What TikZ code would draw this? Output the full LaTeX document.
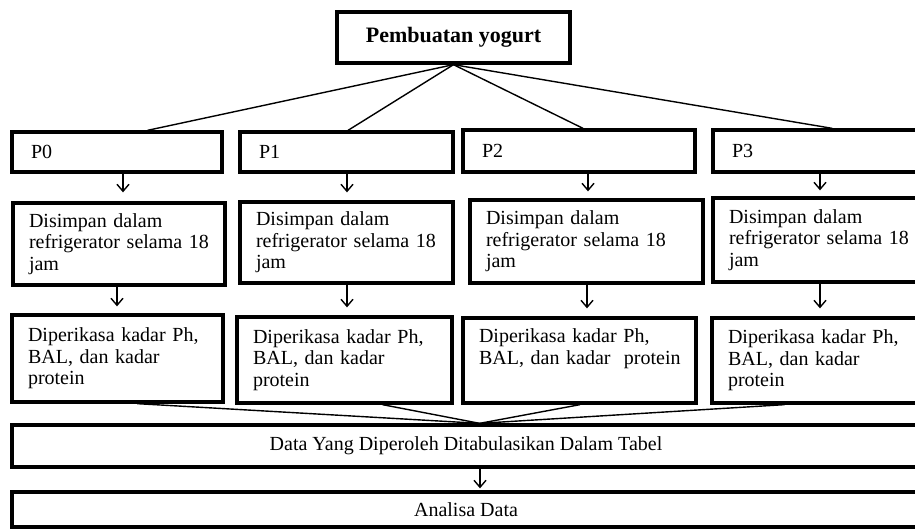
\documentclass[tikz,border=0pt]{standalone}
\usepackage{fontspec}
\setmainfont{Liberation Serif}
\usetikzlibrary{arrows.meta,calc}
\tikzset{
  box/.style={draw, line width=3.3pt, rectangle, align=left, inner ysep=0pt,
    font=\fontsize{20}{21.5}\selectfont},
  pbox/.style={box, inner xsep=19pt},
  tbox/.style={box, inner xsep=16pt},
  widebox/.style={draw, line width=3.3pt, rectangle, inner sep=0pt,
    font=\fontsize{20}{22}\selectfont},
  topbox/.style={draw, line width=3.3pt, rectangle, inner sep=0pt,
    font=\fontsize{22}{24}\selectfont\bfseries},
  conn/.style={line width=1.4pt},
  arr/.style={line width=1.4pt, -{Straight Barb[length=7pt,width=12pt]}},
}
\begin{document}
\begin{tikzpicture}[x=1pt,y=-1pt]
\useasboundingbox (0,0) rectangle (915,528);
% top
\node[topbox, minimum width=233pt, minimum height=51pt] (top) at (453.5,37.5) {Pembuatan yogurt};
% P boxes
\node[pbox, text width=172pt, minimum height=40pt] (P0) at (117,152) {P0};
\node[pbox, text width=175pt, minimum height=40pt] (P1) at (346.5,152) {P1};
\node[pbox, text width=194pt, minimum height=42pt] (P2) at (579,151) {P2};
\node[pbox, text width=169pt, minimum height=42pt] (P3) at (816.5,151) {P3};
% Disimpan boxes
\node[tbox, text width=180pt, minimum height=82pt] (S0) at (119,244)
  {\mbox{Disimpan dalam}\\\mbox{refrigerator selama 18}\\\mbox{jam}};
\node[tbox, text width=181pt, minimum height=81pt] (S1) at (346.5,242.5)
  {\mbox{Disimpan dalam}\\\mbox{refrigerator selama 18}\\\mbox{jam}};
\node[tbox, text width=201pt, minimum height=83pt] (S2) at (586.5,241.5)
  {\mbox{Disimpan dalam}\\\mbox{refrigerator selama 18}\\\mbox{jam}};
\node[tbox, text width=175pt, minimum height=84pt] (S3) at (816.5,240)
  {\mbox{Disimpan dalam}\\\mbox{refrigerator selama 18}\\\mbox{jam}};
% Diperikasa boxes
\node[tbox, text width=179pt, minimum height=87pt] (D0) at (117.5,358.5)
  {\mbox{Diperikasa kadar Ph,}\\\mbox{BAL, dan kadar}\\\mbox{protein}};
\node[tbox, text width=183pt, minimum height=86pt] (D1) at (344.5,360)
  {\mbox{Diperikasa kadar Ph,}\\\mbox{BAL, dan kadar}\\\mbox{protein}};
\node[tbox, text width=201pt, minimum height=85pt] (D2) at (579.5,360.5)
  {\mbox{Diperikasa kadar Ph,}\\\mbox{BAL, dan kadar\ \ protein}\\\mbox{\strut}};
\node[tbox, text width=176pt, minimum height=85pt] (D3) at (816,360.5)
  {\mbox{Diperikasa kadar Ph,}\\\mbox{BAL, dan kadar}\\\mbox{protein}};
% bottom
\node[widebox, minimum width=908pt, minimum height=42pt] (data) at (466,446)
  {Data Yang Diperoleh Ditabulasikan Dalam Tabel};
\node[widebox, minimum width=908pt, minimum height=35pt] (ana) at (466,509.5)
  {Analisa Data};
% connectors from top
\draw[conn] (top.south) -- ($(P0.north west)!0.643!(P0.north east)$);
\draw[conn] (top.south) -- ($(P1.north west)!0.507!(P1.north east)$);
\draw[conn] (top.south) -- ($(P2.north west)!0.517!(P2.north east)$);
\draw[conn] (top.south) -- ($(P3.north west)!0.575!(P3.north east)$);
% arrow columns
\coordinate (a0) at (123,0);
\coordinate (b0) at (117,0);
\coordinate (a1) at (347,0);
\coordinate (a2) at (588,0);
\coordinate (b2) at (587,0);
\coordinate (a3) at (820,0);
\coordinate (a4) at (480,0);
\draw[arr, shorten >=9pt] (P0.south -| a0) -- (S0.north -| a0);
\draw[arr, shorten >=8pt] (P1.south -| a1) -- (S1.north -| a1);
\draw[arr, shorten >=7pt] (P2.south -| a2) -- (S2.north -| a2);
\draw[arr, shorten >=6pt] (P3.south -| a3) -- (S3.north -| a3);
\draw[arr, shorten >=7pt] (S0.south -| b0) -- (D0.north -| b0);
\draw[arr, shorten >=8pt] (S1.south -| a1) -- (D1.north -| a1);
\draw[arr, shorten >=8pt] (S2.south -| b2) -- (D2.north -| b2);
\draw[arr, shorten >=8pt] (S3.south -| a3) -- (D3.north -| a3);
% converging lines
\coordinate (hub) at ($(data.north west)!0.515!(data.north east)$);
\draw[conn] ($(D0.south west)!0.592!(D0.south east)$) -- (hub);
\draw[conn] ($(D1.south west)!0.674!(D1.south east)$) -- (hub);
\draw[conn] ($(D2.south west)!0.502!(D2.south east)$) -- (hub);
\draw[conn] ($(D3.south west)!0.351!(D3.south east)$) -- (hub);
\draw[arr, shorten >=2pt] (data.south -| a4) -- (ana.north -| a4);
\end{tikzpicture}
\end{document}
